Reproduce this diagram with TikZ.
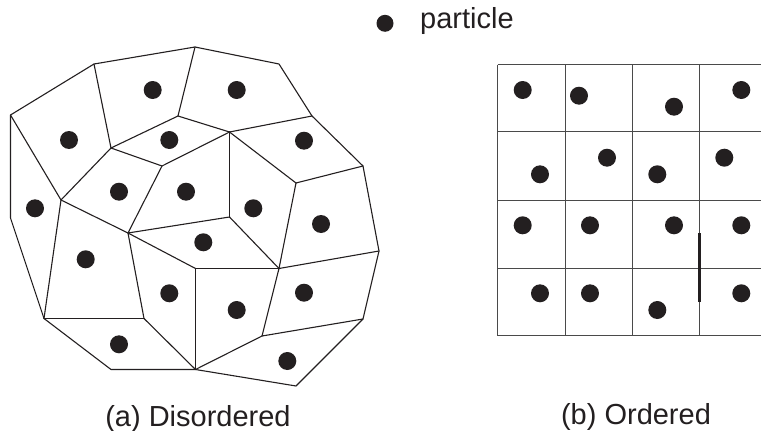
\documentclass[tikz,border=0pt]{standalone}
\usepackage{fontspec}
\setmainfont{Liberation Sans}
\definecolor{ink}{HTML}{231F20}
\definecolor{gridc}{HTML}{4A4A4A}
\begin{document}
\begin{tikzpicture}[x=1pt,y=-1pt,
  edge/.style={draw=ink,line width=1.1pt,line join=round,line cap=round},
  gridline/.style={draw=gridc,line width=0.9pt},
  dot/.style={circle,fill=ink,draw=none,minimum size=18pt,inner sep=0pt},
  lbl/.style={font=\fontsize{29}{34}\selectfont,text=ink,inner sep=0pt}]
\useasboundingbox (0,0) rectangle (761,431);
% ---- Voronoi vertices
\coordinate (A) at (10.5,115);
\coordinate (B) at (94,64);
\coordinate (C) at (195,47);
\coordinate (D) at (279,64);
\coordinate (E) at (312,116);
\coordinate (F) at (363,166);
\coordinate (G) at (379,251);
\coordinate (H) at (363,319);
\coordinate (I) at (296,386);
\coordinate (J) at (195.5,369.5);
\coordinate (K) at (111,369.5);
\coordinate (L) at (44,318.5);
\coordinate (M) at (10.5,218);
\coordinate (N) at (111,148);
\coordinate (O) at (178,116);
\coordinate (P) at (162,166);
\coordinate (Q) at (229.5,132);
\coordinate (R) at (296,183);
\coordinate (S) at (61,200);
\coordinate (T) at (128,233);
\coordinate (U) at (229.5,217);
\coordinate (V) at (195.5,268.5);
\coordinate (W) at (279,268.5);
\coordinate (X) at (262,336);
\coordinate (Y) at (144,318.5);
% outer boundary
\draw[edge] (A) -- (B) -- (C) -- (D) -- (E) -- (F) -- (G) -- (H) -- (I) -- (J) -- (K) -- (L) -- (M) -- cycle;
% inner edges
\foreach \u/\v in {A/S,B/N,N/S,N/O,C/O,N/P,P/Q,P/T,S/T,S/L,O/Q,E/Q,Q/R,R/F,Q/U,R/W,T/U,U/W,T/V,V/W,W/G,W/X,X/H,X/J,V/J,T/Y,L/Y,Y/J}
  \draw[edge] (\u) -- (\v);
% particles (disordered)
\node[dot] (a1) at (152.7,90) {};
\node[dot] (a2) at (236.7,90) {};
\node[dot] (a3) at (69,140) {};
\node[dot] (a4) at (169.3,140) {};
\node[dot] (a5) at (304,140.7) {};
\node[dot] (a6) at (119,191.7) {};
\node[dot] (a7) at (186,191.7) {};
\node[dot] (a8) at (35,208.3) {};
\node[dot] (a9) at (253.3,208.3) {};
\node[dot] (a10) at (321,224) {};
\node[dot] (a11) at (203.3,242.3) {};
\node[dot] (a12) at (85.7,259.3) {};
\node[dot] (a13) at (169.3,293.3) {};
\node[dot] (a14) at (304,292.7) {};
\node[dot] (a15) at (236.7,310) {};
\node[dot] (a16) at (119,344.3) {};
\node[dot] (a17) at (287.3,361) {};
% ---- ordered grid
\foreach \x in {497.5,565.5,632.5,699.5}
  \draw[gridline] (\x,64.5) -- (\x,335.5);
\foreach \y in {64.5,131.5,200.5,268.5,335.5}
  \draw[gridline] (497.5,\y) -- (761,\y);
\draw[draw=ink,line width=2.6pt] (699.5,233.3) -- (699.5,301.7);
% particles (ordered)
\node[dot] (b1) at (522.7,90) {};
\node[dot] (b2) at (579,95.7) {};
\node[dot] (b3) at (674,106.7) {};
\node[dot] (b4) at (741.3,90) {};
\node[dot] (b5) at (540,174.3) {};
\node[dot] (b6) at (607,157.7) {};
\node[dot] (b7) at (657.3,174.3) {};
\node[dot] (b8) at (724.3,157.7) {};
\node[dot] (b9) at (522.7,225.3) {};
\node[dot] (b10) at (590,225.3) {};
\node[dot] (b11) at (674,225.3) {};
\node[dot] (b12) at (741.3,225.3) {};
\node[dot] (b13) at (540,293.3) {};
\node[dot] (b14) at (590,293.3) {};
\node[dot] (b15) at (657.3,310) {};
\node[dot] (b16) at (741.3,293.3) {};
% ---- legend and captions
\node[dot,minimum size=17pt] (legdot) at (385,23.3) {};
\node[lbl,anchor=base west] (legtxt) at (420,28.5) {particle};
\node[lbl,anchor=base] (capa) at (198,426) {(a) Disordered};
\node[lbl,anchor=base] (capb) at (636,424) {(b) Ordered};
\end{tikzpicture}
\end{document}
